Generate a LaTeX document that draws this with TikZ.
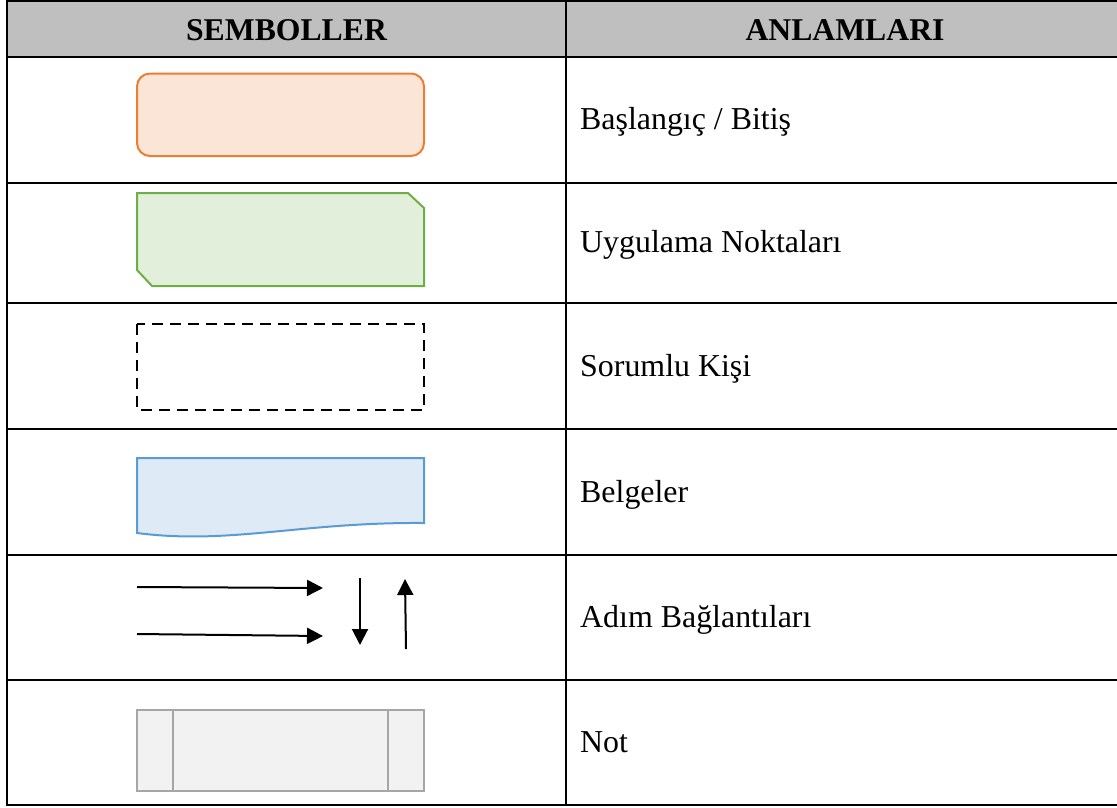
\documentclass[tikz,border=0pt]{standalone}
\usepackage{fontspec}
\setmainfont{Liberation Serif}
\usetikzlibrary{arrows.meta}
\definecolor{hdrgray}{HTML}{BFBFBF}
\definecolor{orgline}{HTML}{ED7D31}
\definecolor{orgfill}{HTML}{FBE5D6}
\definecolor{grnline}{HTML}{70AD47}
\definecolor{grnfill}{HTML}{E2EFDA}
\definecolor{bluline}{HTML}{5B9BD5}
\definecolor{blufill}{HTML}{DEEBF7}
\definecolor{notline}{HTML}{A6A6A6}
\definecolor{notfill}{HTML}{F2F2F2}
\tikzset{
  tblline/.style={line width=2.4pt, black},
  hdrtext/.style={font=\fontsize{31.7}{38}\selectfont\bfseries, anchor=base, inner sep=0pt},
  celltext/.style={font=\fontsize{31.9}{38}\selectfont, anchor=base west, inner sep=0pt},
  symline/.style={line width=2pt},
  flowarrow/.style={line width=2pt, -{Triangle[length=16pt,width=16pt]}},
}
\begin{document}
\begin{tikzpicture}[x=1pt,y=-1pt]
\useasboundingbox (0,0) rectangle (1117,807);
% header background
\fill[hdrgray] (7,1) rectangle (1122,57);
% table grid
\draw[tblline] (1122,1) -- (7,1) -- (7,805) -- (1122,805);
\foreach \yy in {57,183,303,429,555,680}
  \draw[tblline] (7,\yy) -- (1122,\yy);
\draw[tblline] (566,1) -- (566,805);
% header texts
\node[hdrtext] (h1) at (286.5,40) {SEMBOLLER};
\node[hdrtext] (h2) at (845,40) {ANLAMLARI};
% symbols
\draw[symline, draw=orgline, fill=orgfill, rounded corners=13pt] (137,73.5) rectangle (424,156);
\draw[symline, draw=grnline, fill=grnfill] (137,193) -- (408,193) -- (424,208) -- (424,286) -- (152,286) -- (137,270) -- cycle;
\draw[symline, black, dash pattern=on 11pt off 7pt] (137,324) rectangle (424,410);
\draw[symline, draw=bluline, fill=blufill] (137,458) -- (424,458) -- (424,523) .. controls (300,522) and (230,545) .. (137,533) -- cycle;
\coordinate (a1s) at (137,587);
\coordinate (a1e) at (323,588);
\coordinate (a2s) at (137,634);
\coordinate (a2e) at (323,636);
\coordinate (a3s) at (360,578);
\coordinate (a3e) at (360,645);
\coordinate (a4s) at (406,649);
\coordinate (a4e) at (405,579);
\draw[flowarrow] (a1s) -- (a1e);
\draw[flowarrow] (a2s) -- (a2e);
\draw[flowarrow] (a3s) -- (a3e);
\draw[flowarrow] (a4s) -- (a4e);
\draw[symline, draw=notline, fill=notfill] (137,710) rectangle (424,791);
\draw[symline, draw=notline] (172.7,710) -- (172.7,791);
\draw[symline, draw=notline] (387.7,710) -- (387.7,791);
% meanings
\node[celltext] (t1) at (580,129) {Başlangıç / Bitiş};
\node[celltext] (t2) at (580,252.5) {Uygulama Noktaları};
\node[celltext] (t3) at (580,376) {Sorumlu Kişi};
\node[celltext] (t4) at (580,502) {Belgeler};
\node[celltext] (t5) at (580,627) {Adım Bağlantıları};
\node[celltext] (t6) at (580,752) {Not};
\end{tikzpicture}
\end{document}
